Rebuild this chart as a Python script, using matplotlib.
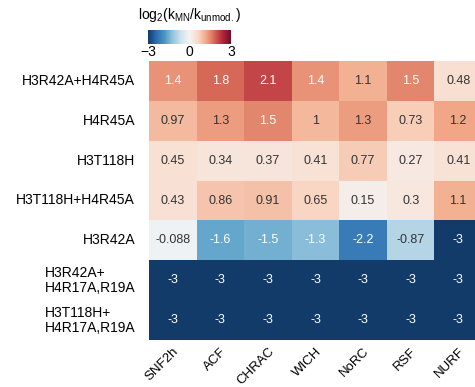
import numpy as np
import matplotlib
matplotlib.use("Agg")
import matplotlib.pyplot as plt
import seaborn as sns

plt.rcParams['font.family'] = ['Liberation Sans', 'DejaVu Sans']
plt.rcParams['mathtext.fontset'] = 'custom'
plt.rcParams['mathtext.rm'] = 'Liberation Sans'

remodelers = ["SNF2h", "ACF", "CHRAC", "WICH", "NoRC", "RSF", "NURF"]
mutants = ["H3R42A+H4R45A", "H4R45A", "H3T118H", "H3T118H+H4R45A", "H3R42A",
           "H3R42A+\nH4R17A,R19A", "H3T118H+\nH4R17A,R19A"]

row_h3r42a_h4r45a = [1.4, 1.8, 2.1, 1.4, 1.1, 1.5, 0.48]
row_h4r45a = [0.97, 1.3, 1.5, 1, 1.3, 0.73, 1.2]
row_h3t118h = [0.45, 0.34, 0.37, 0.41, 0.77, 0.27, 0.41]
row_h3t118h_h4r45a = [0.43, 0.86, 0.91, 0.65, 0.15, 0.3, 1.1]
row_h3r42a = [-0.088, -1.6, -1.5, -1.3, -2.2, -0.87, -3]
row_h3r42a_h4r17 = [-3, -3, -3, -3, -3, -3, -3]
row_h3t118h_h4r17 = [-3, -3, -3, -3, -3, -3, -3]

data = np.array([row_h3r42a_h4r45a, row_h4r45a, row_h3t118h, row_h3t118h_h4r45a,
                 row_h3r42a, row_h3r42a_h4r17, row_h3t118h_h4r17])

# slightly softened RdBu, like the original figure
base = plt.get_cmap("RdBu_r")
cols = base(np.linspace(0, 1, 256))
cols[:, :3] = cols[:, :3] * 0.93 + 0.07 * np.array([0.8, 0.8, 0.85])
cmap = matplotlib.colors.ListedColormap(cols)

fig = plt.figure(figsize=(4.75, 3.87), dpi=100)
# heatmap axes runs off the right edge like the original crop
ax = fig.add_axes([149/475, 1-340/387, 333/475, 279/387])
cax = fig.add_axes([148/475, 1-44/387, 83/475, 14/387])

sns.heatmap(data, ax=ax, cmap=cmap, vmin=-3, vmax=3, cbar=False)

# annotations: white on dark cells
for i in range(data.shape[0]):
    for j in range(data.shape[1]):
        v = data[i, j]
        col = "white" if (v >= 1.4 or v <= -1.3) else "#333333"
        ax.text(j + 0.5, i + 0.5, f"{v:g}", ha="center", va="center",
                fontsize=9, color=col)

ax.set_xticks(np.arange(len(remodelers)) + 0.5)
ax.set_xticklabels(remodelers, rotation=45, ha="right", rotation_mode="anchor",
                   fontsize=9.5)
ax.set_yticks(np.arange(len(mutants)) + 0.5)
ax.set_yticklabels(mutants, rotation=0, fontsize=10, multialignment="left",
                   linespacing=1.1)
ax.tick_params(axis="y", length=0, pad=10)
ax.tick_params(axis="x", length=0, pad=4)

norm = matplotlib.colors.Normalize(vmin=-3, vmax=3)
cb = fig.colorbar(matplotlib.cm.ScalarMappable(norm=norm, cmap=cmap),
                  cax=cax, orientation="horizontal")
cb.set_ticks([-3, 0, 3])
cb.ax.tick_params(length=0, labelsize=10, pad=1)
cb.outline.set_visible(False)
cax.set_title(r"log$_\mathrm{2}$(k$_\mathrm{MN}$/k$_\mathrm{unmod.}$)", fontsize=10, pad=8)

fig.savefig("out.png", dpi=100)
